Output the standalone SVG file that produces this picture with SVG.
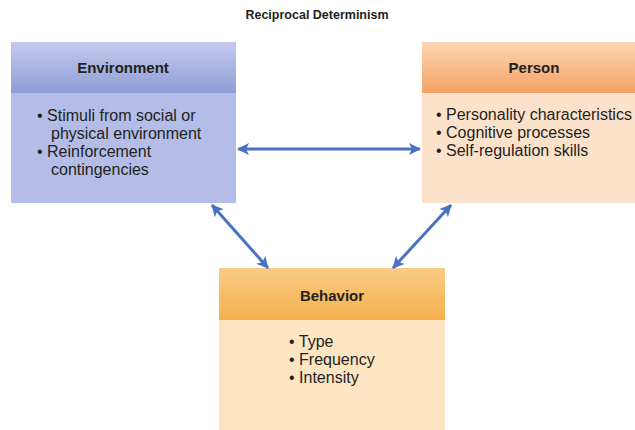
<svg xmlns="http://www.w3.org/2000/svg" width="635" height="430" viewBox="0 0 635 430">
  <style>
    text { font-family: "Liberation Sans", Arial, sans-serif; fill: #231f20; }
    .title { font-size: 12.5px; font-weight: bold; }
    .head { font-size: 15px; font-weight: bold; text-anchor: middle; }
    .item { font-size: 16px; }
    .link { stroke: #4a72c0; stroke-width: 3; fill: none; marker-start: url(#tip); marker-end: url(#tip); }
  </style>
  <defs>
    <linearGradient id="envHead" x1="0" y1="0" x2="0" y2="1">
      <stop offset="0" stop-color="#c3cbed"/>
      <stop offset="1" stop-color="#8e9dd6"/>
    </linearGradient>
    <linearGradient id="perHead" x1="0" y1="0" x2="0" y2="1">
      <stop offset="0" stop-color="#fcd6b4"/>
      <stop offset="1" stop-color="#f5a263"/>
    </linearGradient>
    <linearGradient id="behHead" x1="0" y1="0" x2="0" y2="1">
      <stop offset="0" stop-color="#f9cc83"/>
      <stop offset="1" stop-color="#f4b04e"/>
    </linearGradient>
    <marker id="tip" viewBox="0 0 12 12" refX="11" refY="6" markerWidth="12" markerHeight="12" markerUnits="userSpaceOnUse" orient="auto-start-reverse">
      <path d="M0,0 L12,6 L0,12 L3,6 Z" fill="#4a72c0"/>
    </marker>
  </defs>

  <text class="title" x="317" y="19" text-anchor="middle">Reciprocal Determinism</text>

  <g id="environment">
    <rect x="11" y="42" width="225" height="161" fill="#b3bde7"/>
    <rect x="11" y="42" width="225" height="51" fill="url(#envHead)"/>
    <text class="head" x="123" y="73">Environment</text>
    <text class="item" x="37" y="121">• Stimuli from social or</text>
    <text class="item" x="51" y="139">physical environment</text>
    <text class="item" x="37" y="157">• Reinforcement</text>
    <text class="item" x="51" y="175">contingencies</text>
  </g>

  <g id="person">
    <rect x="422" y="42" width="213" height="161" fill="#fde2cb"/>
    <rect x="422" y="42" width="213" height="51" fill="url(#perHead)"/>
    <text class="head" x="534" y="73">Person</text>
    <text class="item" x="436" y="120">• Personality characteristics</text>
    <text class="item" x="436" y="138">• Cognitive processes</text>
    <text class="item" x="436" y="156">• Self-regulation skills</text>
  </g>

  <g id="behavior">
    <rect x="219" y="268" width="226" height="162" fill="#fde5c2"/>
    <rect x="219" y="268" width="226" height="52" fill="url(#behHead)"/>
    <text class="head" x="332" y="301">Behavior</text>
    <text class="item" x="289" y="347">• Type</text>
    <text class="item" x="289" y="365">• Frequency</text>
    <text class="item" x="289" y="383">• Intensity</text>
  </g>

  <g id="connectors">
    <line class="link" x1="238" y1="149" x2="420" y2="149"/>
    <line class="link" x1="212" y1="205" x2="268" y2="268"/>
    <line class="link" x1="451" y1="205" x2="393" y2="268"/>
  </g>
</svg>
